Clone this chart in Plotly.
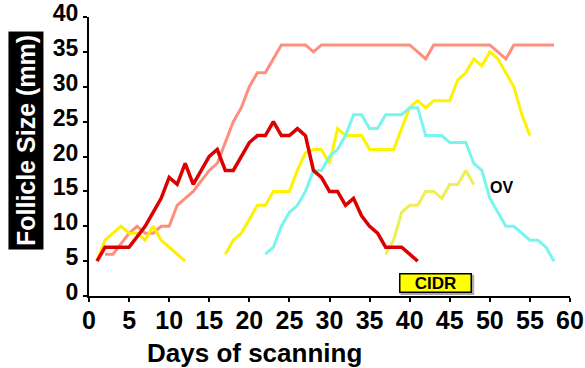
import plotly.graph_objects as go

# Data
salmon_days = list(range(2, 59))
salmon_mm = [6, 6, 7.5, 9, 10, 9, 9, 10, 10, 13, 14, 15, 16.5, 18, 19, 22, 25, 27, 30, 32, 32, 34,
             36, 36, 36, 36, 35, 36, 36, 36, 36, 36, 36, 36, 36, 36, 36, 36, 36, 35, 34, 36, 36,
             36, 36, 36, 36, 36, 36, 35, 34, 36, 36, 36, 36, 36, 36]

red_days = list(range(1, 42))
red_mm = [5, 7, 7, 7, 7, 8.5, 10, 12, 14, 17, 16, 19, 16, 18, 20, 21, 18, 18, 20, 22, 23, 23, 25,
          23, 23, 24, 23, 18, 17, 15, 15, 13, 14, 11.5, 10, 9, 7, 7, 7, 6, 5]

yellow1_days = list(range(1, 13))
yellow1_mm = [5, 8, 9, 10, 9, 9, 8, 10, 8, 7, 6, 5]

yellow2_days = list(range(17, 56))
yellow2_mm = [6, 8, 9, 11, 13, 13, 15, 15, 15, 18, 20.5, 21, 21, 19, 24, 23, 23, 23, 21, 21, 21,
              21, 24, 27, 28, 27, 28, 28, 28, 31, 32, 34, 33, 35, 34, 32, 30, 26, 23]

yellow3_days = list(range(37, 49))
yellow3_mm = [6, 8, 12, 13, 13, 15, 15, 14, 16, 16, 18, 16]

cyan_days = list(range(22, 59))
cyan_mm = [6, 7, 10, 12, 13, 15, 18, 18, 20, 21, 23, 26, 26, 24, 24, 26, 26, 26, 27, 27, 23, 23,
           23, 22, 22, 22, 19, 18, 14, 12, 10, 10, 9, 8, 8, 7, 5]

x_ticks = [0, 5, 10, 15, 20, 25, 30, 35, 40, 45, 50, 55, 60]
y_ticks = [0, 5, 10, 15, 20, 25, 30, 35, 40]

FONT = "Liberation Sans, Arial, sans-serif"

series = [
    (salmon_days, salmon_mm, "#FF8F7C", 3),
    (yellow1_days, yellow1_mm, "#FFEE00", 3),
    (yellow2_days, yellow2_mm, "#FFF200", 3),
    (yellow3_days, yellow3_mm, "#EEEE55", 3),
    (cyan_days, cyan_mm, "#77F5EE", 3),
    (red_days, red_mm, "#DD0000", 3.5),
]

fig = go.Figure()
for d, v, c, w in series:
    fig.add_trace(go.Scatter(x=d, y=v, mode="lines", line=dict(color=c, width=w),
                             showlegend=False, hoverinfo="skip"))

fig.update_layout(
    width=585, height=368,
    margin=dict(l=89, r=15, t=17, b=72, autoexpand=False),
    paper_bgcolor="white", plot_bgcolor="white",
    showlegend=False,
    xaxis=dict(range=[0, 60], tickvals=x_ticks, showgrid=False, zeroline=False,
               automargin=False, ticklabeloverflow="allow", ticklabelstandoff=-3,
               showline=True, linecolor="black", linewidth=2,
               ticks="outside", ticklen=4, tickwidth=1.5, tickcolor="black",
               tickfont=dict(family=FONT, size=25, color="black", weight="bold")),
    yaxis=dict(range=[0, 40], tickvals=y_ticks, showgrid=False, zeroline=False,
               automargin=False, ticklabelshift=-4, ticklabeloverflow="allow",
               showline=True, linecolor="black", linewidth=2,
               ticks="outside", ticklen=4, tickwidth=1.5, tickcolor="black",
               tickfont=dict(family=FONT, size=23, color="black", weight="bold")),
)

# Axis titles
fig.add_annotation(text="Days of scanning", xref="x", yref="paper", x=20.7, y=-0.204,
                   xanchor="center", yanchor="middle", showarrow=False,
                   font=dict(family=FONT, size=26, color="black", weight="bold"))
fig.add_annotation(text="Follicle Size (mm)", xref="paper", yref="paper", x=-0.131, y=0.559,
                   xanchor="center", yanchor="middle", showarrow=False, textangle=-90,
                   bgcolor="black", borderpad=3,
                   font=dict(family=FONT, size=25, color="white", weight="bold"))

# CIDR box (shadow + box)
fig.add_shape(type="rect", xref="x", yref="y", x0=38.85, x1=48.05, y0=0.15, y1=3.05,
              fillcolor="#AAAAAA", line=dict(width=0), layer="above")
fig.add_annotation(text="CIDR", xref="x", yref="y", x=43.2, y=1.85,
                   xanchor="center", yanchor="middle", showarrow=False,
                   width=70, height=17, bgcolor="#FFFF00", bordercolor="black",
                   borderwidth=1.5, borderpad=0,
                   font=dict(family=FONT, size=17, color="black", weight="bold"))
fig.add_annotation(text="OV", xref="x", yref="y", x=51.5, y=15.6,
                   xanchor="center", yanchor="middle", showarrow=False,
                   font=dict(family=FONT, size=16, color="black", weight="bold"))

fig.write_html("out.html")
